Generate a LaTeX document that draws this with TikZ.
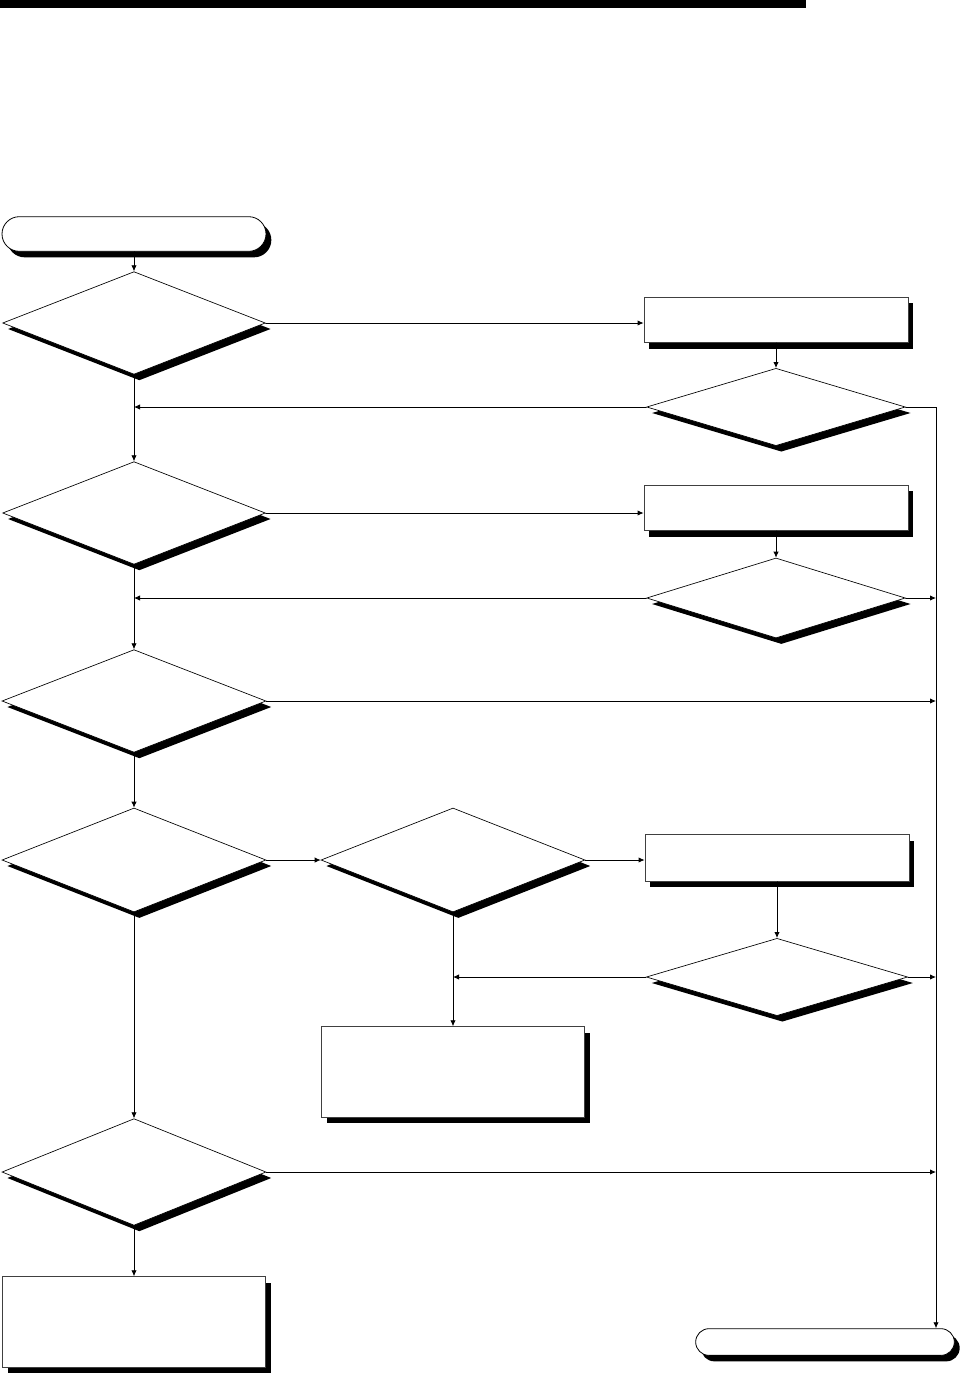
\documentclass[tikz,border=0pt]{standalone}
\usepackage{tikz}
\usetikzlibrary{arrows.meta,shapes.geometric,shadows}

\begin{document}
\begin{tikzpicture}[x=0.75pt,y=-0.75pt,>={Latex[length=4.5pt,width=4pt]},line cap=round,
  shade/.style={drop shadow={fill=black,opacity=1,shadow xshift=4pt,shadow yshift=-4.5pt}},
  decision/.style={diamond,draw,fill=white,inner sep=0pt,line width=0.5pt,shade},
  proc/.style={rectangle,draw=black!75,fill=white,inner sep=0pt,line width=0.6pt,shade},
  term/.style={rectangle,draw,fill=white,inner sep=0pt,line width=0.6pt,shade},
  link/.style={draw,line width=0.6pt}]
\useasboundingbox (0,0) rectangle (964,1374);
\fill (0,0) rectangle (806,8);
\node[term,rounded corners=13pt,minimum width=198pt,minimum height=26pt] (start) at (134,234) {};
\node[decision,minimum width=197pt,minimum height=77pt] (q1) at (134,323) {};
\node[proc,minimum width=198pt,minimum height=34pt] (p1) at (776,320) {};
\node[decision,minimum width=194pt,minimum height=58pt] (q2) at (776,407) {};
\node[decision,minimum width=197pt,minimum height=77pt] (q3) at (134,513) {};
\node[proc,minimum width=198pt,minimum height=34pt] (p2) at (776,508) {};
\node[decision,minimum width=194pt,minimum height=60pt] (q4) at (776,598) {};
\node[decision,minimum width=198pt,minimum height=77pt] (q5) at (134,701) {};
\node[decision,minimum width=198pt,minimum height=78pt] (q6) at (134,860) {};
\node[decision,minimum width=198pt,minimum height=78pt] (q7) at (453,860) {};
\node[proc,minimum width=198pt,minimum height=35pt] (p3) at (777,858) {};
\node[decision,minimum width=196pt,minimum height=58pt] (q8) at (777,977) {};
\node[proc,minimum width=197pt,minimum height=68pt] (p4) at (453,1072) {};
\node[decision,minimum width=198pt,minimum height=80pt] (q9) at (134,1172) {};
\node[proc,minimum width=197pt,minimum height=68pt] (p5) at (134,1322) {};
\node[term,rounded corners=10pt,minimum width=194pt,minimum height=20pt] (stop) at (825,1342) {};
\coordinate (rail) at (936,407);
\draw[link,->] (start) -- (q1);
\draw[link,->] (q1.east) -- (q1.east -| p1.west);
\draw[link,->] (p1) -- (q2);
\draw[link,->] (q2.west) -- (q2.west -| q1.south);
\draw[link,->] (q2.east) -- (rail) -- (rail |- stop.north);
\draw[link,->] (q1.south) -- (q3.north);
\draw[link,->] (q3.east) -- (q3.east -| p2.west);
\draw[link,->] (p2) -- (q4);
\draw[link,->] (q4.west) -- (q4.west -| q3.south);
\draw[link,->] (q4.east) -- (q4.east -| rail);
\draw[link,->] (q3.south) -- (q5.north);
\draw[link,->] (q5.east) -- (q5.east -| rail);
\draw[link,->] (q5.south) -- (q6.north);
\draw[link,->] (q6.east) -- (q7.west);
\draw[link,->] (q7.east) -- (q7.east -| p3.west);
\draw[link,->] (p3) -- (q8);
\draw[link,->] (q8.west) -- (q8.west -| q7.south);
\draw[link,->] (q8.east) -- (q8.east -| rail);
\draw[link,->] (q7.south) -- (p4.north);
\draw[link,->] (q6.south) -- (q9.north);
\draw[link,->] (q9.east) -- (q9.east -| rail);
\draw[link,->] (q9.south) -- (p5.north);
\end{tikzpicture}
\end{document}
